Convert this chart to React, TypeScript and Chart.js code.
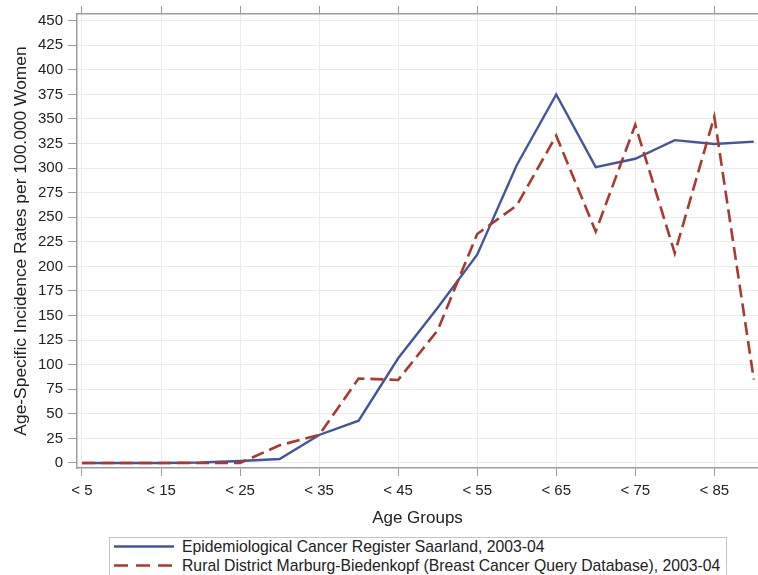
import React, { useEffect, useRef } from 'react';
import { Chart, registerables } from 'chart.js';

Chart.register(...registerables);

const ageUpperBounds = [5, 10, 15, 20, 25, 30, 35, 40, 45, 50, 55, 60, 65, 70, 75, 80, 85, 90];
const tickAges = [5, 15, 25, 35, 45, 55, 65, 75, 85];
const yTickValues = [0, 25, 50, 75, 100, 125, 150, 175, 200, 225, 250, 275, 300, 325, 350, 375, 400, 425, 450];
const saarland = [0, 0, 0, 0.5, 2, 4, 28.5, 43, 106.5, 158, 212, 303, 375, 301, 309.5, 328.5, 324.5, 327];
const marburg = [0, 0, 0, 0, 0, 18, 28.5, 86, 84.5, 135, 233, 262, 333, 235.5, 344, 213.5, 352.5, 85];

const seriesNames = [
  'Epidemiological Cancer Register Saarland, 2003-04',
  'Rural District Marburg-Biedenkopf (Breast Cancer Query Database), 2003-04',
];
const yTitle = 'Age-Specific Incidence Rates per 100.000 Women';
const xTitle = 'Age Groups';

const FONT = "'Liberation Sans', Arial, Helvetica, sans-serif";
const BLUE = '#44559c';
const RED = '#a83a32';
const TEXT = '#222222';
const AXIS = '#9c9c9c';
const GRID = '#ebebeb';

const X_MIN = 4.368;
const X_MAX = 90.53;

export default function App() {
  const canvasRef = useRef<HTMLCanvasElement | null>(null);

  useEffect(() => {
    const canvas = canvasRef.current;
    if (!canvas) return;
    const chart = new Chart(canvas, {
      type: 'line',
      data: {
        datasets: [
          {
            label: seriesNames[1],
            data: ageUpperBounds.map((a, i) => ({ x: a, y: marburg[i] })),
            borderColor: RED,
            borderWidth: 2.6,
            borderDash: [13, 6],
            pointRadius: 0,
            fill: false,
            tension: 0,
            order: 0,
          },
          {
            label: seriesNames[0],
            data: ageUpperBounds.map((a, i) => ({ x: a, y: saarland[i] })),
            borderColor: BLUE,
            borderWidth: 2.4,
            pointRadius: 0,
            fill: false,
            tension: 0,
            order: 1,
          },
        ],
      },
      options: {
        animation: false,
        responsive: false,
        maintainAspectRatio: false,
        layout: { padding: 0 },
        plugins: {
          legend: { display: false },
          tooltip: { enabled: false },
        },
        scales: {
          x: {
            type: 'linear',
            position: 'bottom',
            min: X_MIN,
            max: X_MAX,
            afterBuildTicks: (s: any) => {
              s.ticks = tickAges.map((v) => ({ value: v }));
            },
            afterFit: (s: any) => {
              s.height = 67;
            },
            ticks: {
              callback: (v: any) => '< ' + v,
              font: { family: FONT, size: 15 },
              color: TEXT,
              padding: 6,
              maxRotation: 0,
              autoSkip: false,
            },
            grid: { color: GRID, tickColor: AXIS, tickLength: 8, lineWidth: 1 },
            border: { color: AXIS, width: 1.5 },
            title: {
              display: true,
              text: xTitle,
              font: { family: FONT, size: 17 },
              color: TEXT,
              padding: { top: 0, bottom: 6 },
            },
          },
          x2: {
            type: 'linear',
            position: 'top',
            min: X_MIN,
            max: X_MAX,
            afterBuildTicks: (s: any) => {
              s.ticks = tickAges.map((v) => ({ value: v }));
            },
            afterFit: (s: any) => {
              s.height = 14;
            },
            ticks: { display: false },
            grid: { drawOnChartArea: false, tickColor: AXIS, tickLength: 8 },
            border: { color: AXIS, width: 1.5 },
          },
          y: {
            type: 'linear',
            min: -5.09,
            max: 456.8,
            afterBuildTicks: (s: any) => {
              s.ticks = yTickValues.map((v) => ({ value: v }));
            },
            afterFit: (s: any) => {
              s.width = 77;
            },
            ticks: {
              font: { family: FONT, size: 15 },
              color: TEXT,
              padding: 5,
            },
            grid: { color: GRID, tickColor: AXIS, tickLength: 9, lineWidth: 1 },
            border: { color: AXIS, width: 1.5 },
            title: {
              display: true,
              text: yTitle,
              font: { family: FONT, size: 17.4 },
              color: TEXT,
              padding: { top: 11, bottom: 0 },
            },
          },
        },
      } as any,
    });
    return () => chart.destroy();
  }, []);

  const rowStyle = (top: number): React.CSSProperties => ({
    position: 'absolute',
    left: 0,
    top,
    height: 19,
    width: '100%',
  });

  return (
    <div style={{ position: 'absolute', left: 0, top: 0, width: 758, height: 575, background: '#fff', overflow: 'hidden' }}>
      <canvas ref={canvasRef} width={758} height={535} style={{ position: 'absolute', left: 0, top: 0, width: 758, height: 535 }} />
      <div
        style={{
          position: 'absolute',
          left: 109,
          top: 537,
          width: 618,
          height: 40,
          border: '1px solid #c4c4c4',
          boxSizing: 'border-box',
          fontFamily: FONT,
          fontSize: 15.75,
          color: TEXT,
        }}
      >
        <div style={rowStyle(-1)}>
          <svg width={64} height={19} style={{ position: 'absolute', left: 3, top: 0 }}>
            <line x1={1} y1={9.5} x2={61} y2={9.5} stroke={BLUE} strokeWidth={2.4} />
          </svg>
          <span style={{ position: 'absolute', left: 72, top: 0, lineHeight: '19px', whiteSpace: 'nowrap' }}>{seriesNames[0]}</span>
        </div>
        <div style={rowStyle(18)}>
          <svg width={64} height={19} style={{ position: 'absolute', left: 3, top: 0 }}>
            <line x1={1} y1={9.5} x2={61} y2={9.5} stroke={RED} strokeWidth={2.6} strokeDasharray="14 8" />
          </svg>
          <span style={{ position: 'absolute', left: 72, top: 0, lineHeight: '19px', whiteSpace: 'nowrap' }}>{seriesNames[1]}</span>
        </div>
      </div>
    </div>
  );
}
